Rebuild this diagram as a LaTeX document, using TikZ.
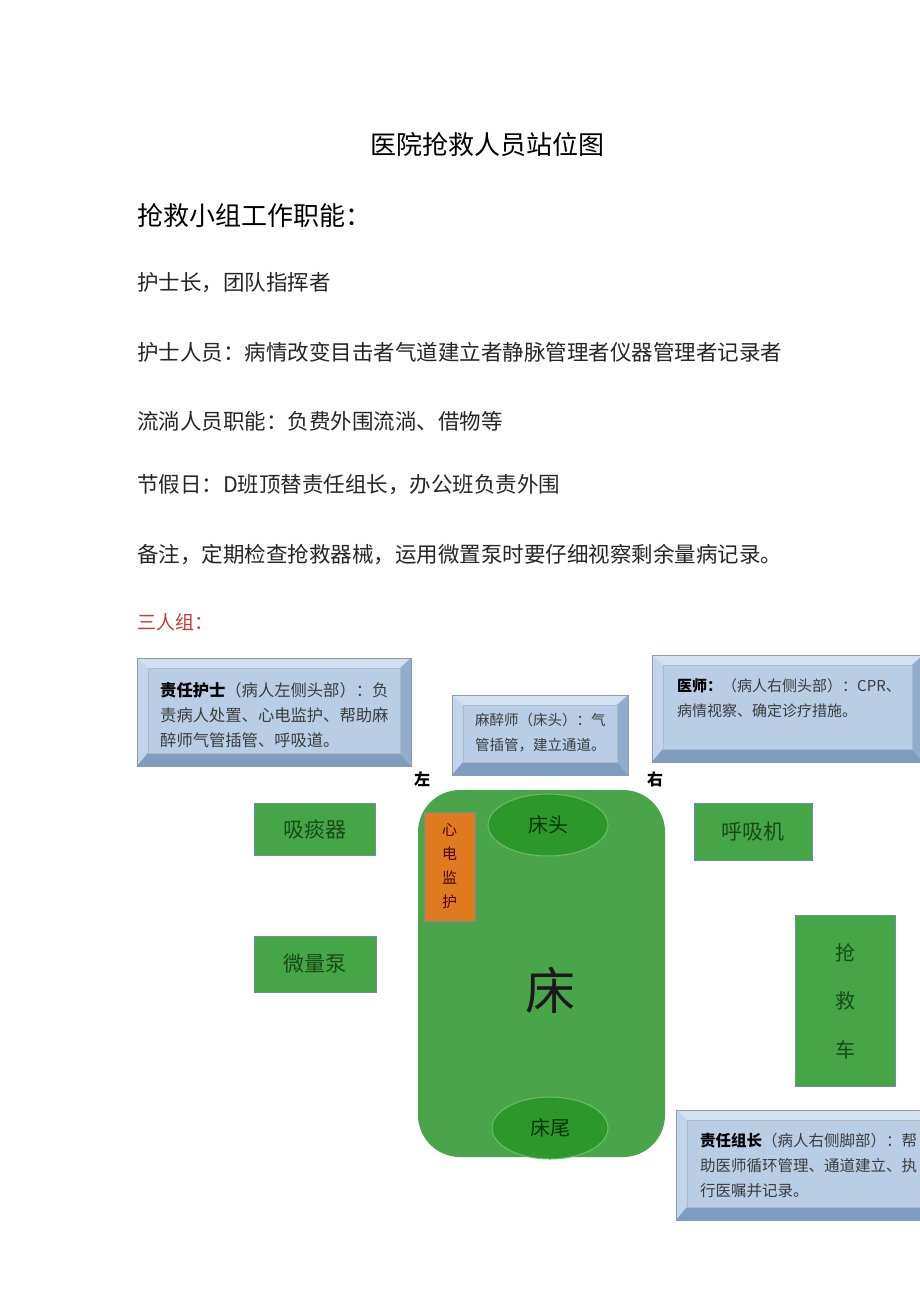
\documentclass[tikz,border=0pt]{standalone}
\usepackage{fontspec}
\setmainfont{Noto Sans CJK SC}
\usetikzlibrary{shapes.geometric}
\definecolor{bvface}{HTML}{B9CDE5}
\definecolor{bvtop}{HTML}{D3E0F0}
\definecolor{bvleft}{HTML}{C3D4EA}
\definecolor{bvbottom}{HTML}{7F9DC1}
\definecolor{bvright}{HTML}{91ACCD}
\definecolor{bvline}{HTML}{8C9CB0}
\definecolor{boxtext}{HTML}{3C3C3C}
\definecolor{gbox}{HTML}{46A546}
\definecolor{gline}{HTML}{6E8FA0}
\definecolor{gtext}{HTML}{174A17}
\definecolor{bedgreen}{HTML}{4AA54A}
\definecolor{ellgreen}{HTML}{2C982C}
\definecolor{ellline}{HTML}{6CC06C}
\definecolor{orangebox}{HTML}{E07A1F}
\definecolor{redtext}{HTML}{C83A3A}
\newcommand\bevelbox[4]{%
  \fill[bvface] (#1,#2) rectangle (#3,#4);
  \fill[bvtop] (#1,#2) -- (#3,#2) -- ({#3-11},{#2+10}) -- ({#1+11},{#2+10}) -- cycle;
  \fill[bvleft] (#1,#2) -- ({#1+11},{#2+10}) -- ({#1+11},{#4-13}) -- (#1,#4) -- cycle;
  \fill[bvbottom] (#1,#4) -- ({#1+11},{#4-13}) -- ({#3-11},{#4-13}) -- (#3,#4) -- cycle;
  \fill[bvright] (#3,#2) -- ({#3-11},{#2+10}) -- ({#3-11},{#4-13}) -- (#3,#4) -- cycle;
  \draw[bvline, line width=0.6pt] (#1,#2) rectangle (#3,#4);
  \draw[bvline!70, line width=0.4pt] ({#1+11},{#2+10}) rectangle ({#3-11},{#4-13});
}
\tikzset{
  body/.style={anchor=west, inner sep=0pt, font=\fontsize{21.5}{25}\selectfont, text=black!85},
  boxline/.style={anchor=west, inner sep=0pt, text=boxtext},
  gtool/.style={draw=gline, line width=0.8pt, fill=gbox, inner sep=0pt, text=gtext, font=\fontsize{21}{25}\selectfont},
  bedell/.style={ellipse, draw=ellline, line width=1pt, fill=ellgreen, inner sep=0pt, font=\fontsize{20}{24}\selectfont, text=black!80!green},
  side/.style={inner sep=0pt, font=\bfseries\fontsize{16}{18}\selectfont}
}
\begin{document}
\begin{tikzpicture}[x=1pt,y=-1pt]
\useasboundingbox (0,0) rectangle (920,1301);
\clip (0,0) rectangle (920,1301);
\fill[white] (0,0) rectangle (920,1301);

% header texts
\node[inner sep=0pt, font=\fontsize{26}{30}\selectfont] (title) at (487,145) {医院抢救人员站位图};
\node[anchor=west, inner sep=0pt, font=\fontsize{26}{30}\selectfont] (head) at (137,216) {抢救小组工作职能：};
\node[body] (l1) at (137,283) {护士长，团队指挥者};
\node[body] (l2) at (137,352) {护士人员：病情改变目击者气道建立者静脉管理者仪器管理者记录者};
\node[body] (l3) at (137,421) {流淌人员职能：负费外围流淌、借物等};
\node[body] (l4) at (137,485) {节假日：D班顶替责任组长，办公班负责外围};
\node[body] (l5) at (137,555) {备注，定期检查抢救器械，运用微置泵时要仔细视察剩余量病记录。};
\node[anchor=west, inner sep=0pt, font=\fontsize{19}{23}\selectfont, text=redtext] (group) at (137,622) {三人组：};

% bevel boxes
\bevelbox{137}{658}{411}{766}
\node[boxline, font=\fontsize{16.3}{20}\selectfont] (n1a) at (160,690) {\textbf{\color{black}责任护士}（病人左侧头部）：负};
\node[boxline, font=\fontsize{16.3}{20}\selectfont] (n1b) at (160,715) {责病人处置、心电监护、帮助麻};
\node[boxline, font=\fontsize{16.3}{20}\selectfont] (n1c) at (160,740) {醉师气管插管、呼吸道。};

\bevelbox{452}{695}{628}{775}
\node[boxline, font=\fontsize{14.5}{18}\selectfont] (n2a) at (475,720) {麻醉师（床头）：气};
\node[boxline, font=\fontsize{14.5}{18}\selectfont] (n2b) at (475,745) {管插管，建立通道。};

\bevelbox{652}{655}{923}{762}
\node[boxline, font=\fontsize{15}{19}\selectfont] (n3a) at (677,686) {\textbf{\color{black}医师：}（病人右侧头部）：CPR、};
\node[boxline, font=\fontsize{15}{19}\selectfont] (n3b) at (677,711) {病情视察、确定诊疗措施。};

\bevelbox{676}{1110}{935}{1220}
\node[boxline, font=\fontsize{15.5}{19}\selectfont] (n4a) at (700,1141) {\textbf{\color{black}责任组长}（病人右侧脚部）：帮};
\node[boxline, font=\fontsize{15.5}{19}\selectfont] (n4b) at (700,1166) {助医师循环管理、通道建立、执};
\node[boxline, font=\fontsize{15.5}{19}\selectfont] (n4c) at (700,1191) {行医嘱并记录。};

% side labels
\node[side] (left) at (422,779) {左};
\node[side] (right) at (655,779) {右};

% bed
\node[fill=bedgreen, rounded corners=42pt, minimum width=247pt, minimum height=367pt, inner sep=0pt] (bed) at (541.5,973.5) {};
\node[inner sep=0pt, font=\fontsize{50}{56}\selectfont, text=black!90] (bedtxt) at (550,990) {床};
\node[bedell, minimum width=120pt, minimum height=62pt] (head2) at (548,825) {床头};
\node[bedell, minimum width=116pt, minimum height=62pt] (foot) at (550,1128) {床尾};
\node[draw=gline, line width=0.8pt, fill=orangebox, minimum width=51pt, minimum height=109pt, inner sep=0pt, align=center, text=black!70!red, font=\fontsize{15}{24}\selectfont] (ecg) at (449.5,866.5) {心\\电\\监\\护};

% equipment
\node[gtool, minimum width=121pt, minimum height=52pt] (suction) at (314.5,829) {吸痰器};
\node[gtool, minimum width=122pt, minimum height=56pt] (pump) at (315,964) {微量泵};
\node[gtool, minimum width=118pt, minimum height=57pt] (vent) at (753,831.5) {呼吸机};
\node[gtool, minimum width=100pt, minimum height=171pt, align=center, font=\fontsize{20}{48.5}\selectfont] (cart) at (845,1001) {抢\\救\\车};
\end{tikzpicture}
\end{document}
